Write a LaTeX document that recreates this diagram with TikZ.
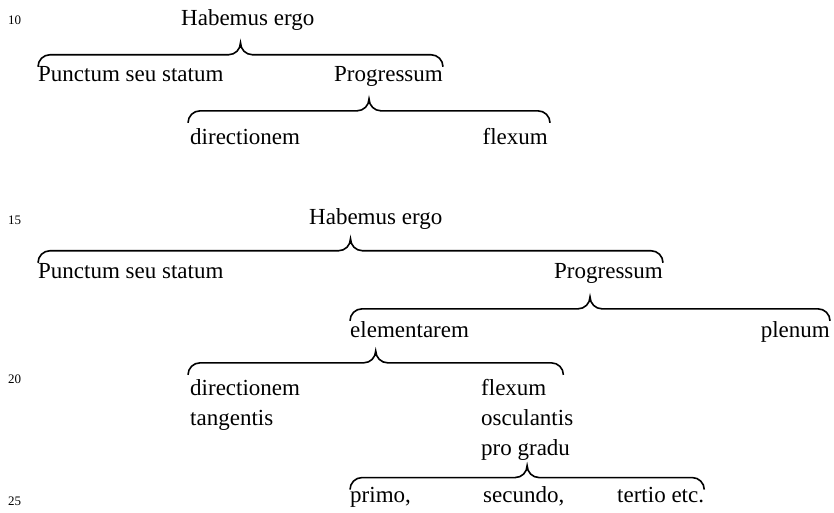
\documentclass[tikz,border=0pt]{standalone}
\usepackage{fontspec}
\setmainfont{Liberation Serif}
\usepackage{tikz}
\usetikzlibrary{positioning,calc}

\begin{document}
\begin{tikzpicture}[
    x=1pt, y=1pt,
    word/.style={inner sep=0pt, anchor=base west, font=\fontsize{23}{30}\selectfont},
    wordr/.style={word, anchor=base east},
    lines/.style={word, align=left},
    lineno/.style={inner sep=0pt, anchor=base west, font=\fontsize{13}{15}\selectfont},
    curly/.style={line width=1.6pt, to path={let \p1=(\tikztostart), \p2=(\tikztotarget) in
        (\tikztostart) arc[start angle=180, end angle=90, radius=12pt]
        -- (\x1/2+\x2/2-12pt, \y1+12pt) arc[start angle=270, end angle=360, radius=12pt]
        arc[start angle=180, end angle=270, radius=12pt]
        -- (\x2-12pt, \y1+12pt) arc[start angle=90, end angle=0, radius=12pt]}}
]
\useasboundingbox (0,0) rectangle (834,-513);

% First scheme
\node[lineno] (no10) at (8,-25) {10};
\node[word] (habA) at (181,-26) {Habemus ergo};
\node[word] (punctA) at (38,-82) {Punctum seu statum};
\node[wordr] (progA) at (443,-82) {Progressum};
\node[word] (dirA) at (190,-145) {directionem};
\node[wordr] (flexA) at (548,-145) {flexum};

\draw[curly] (punctA.north west) to (progA.north east |- punctA.north west);
\draw[curly] ([shift={(-2pt,6pt)}]dirA.north west) to ([shift={(2pt,6pt)}]flexA.north east |- dirA.north west);

% Second scheme
\node[lineno] (no15) at (8,-224) {15};
\node[word] (habB) at (309,-224) {Habemus ergo};
\node[word] (punctB) at (38,-278) {Punctum seu statum};
\node[wordr] (progB) at (663,-278) {Progressum};
\node[word] (elem) at (350,-337) {elementarem};
\node[wordr] (plen) at (830,-337) {plenum};

\node[lineno] (no20) at (8,-383) {20};
\node[lines] (dirB) at (190,-425) {directionem\\tangentis};
\node[lines] (flexB) at (481,-455) {flexum\\osculantis\\pro gradu};

\node[lineno] (no25) at (8,-505) {25};
\node[word] (primo) at (350,-502) {primo,};
\node[word] (secundo) at (483,-502) {secundo,};
\node[word] (tertio) at (617,-502) {tertio etc.};

\draw[curly] (punctB.north west) to (progB.north east |- punctB.north west);
\draw[curly] (elem.north west) to (plen.north east |- elem.north west);
\draw[curly] ([shift={(-2pt,4pt)}]dirB.north west) to ([shift={(-10pt,4pt)}]flexB.north east |- dirB.north west);
\draw[curly] ([yshift=-3pt]primo.north west) to ([yshift=-3pt]tertio.north east |- primo.north west);

\end{tikzpicture}
\end{document}
